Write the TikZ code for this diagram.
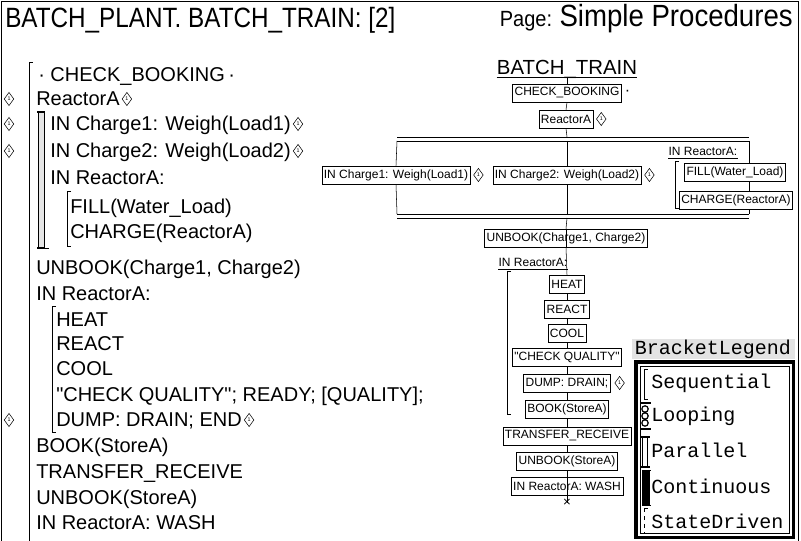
\documentclass[tikz,border=0pt]{standalone}
\usepackage{graphicx}
\usepackage{fontspec}
\setmainfont{Liberation Sans}[Ligatures=TeXOff]
\newfontfamily\legfont{Liberation Mono}
\usetikzlibrary{shapes.geometric,calc}
\tikzset{
 lt/.style={anchor=base west,inner sep=0pt,font=\fontsize{15}{15}\selectfont},
 bx/.style={draw,fill=white,inner xsep=1.5pt,inner ysep=0pt,minimum height=13.5pt,font=\fontsize{9}{9}\selectfont},
 dmk/.style={diamond,draw,inner sep=0pt,minimum width=7.3pt,minimum height=10pt,font=\fontsize{4}{4}\selectfont},
 lg/.style={anchor=base west,inner sep=0pt,font=\legfont\fontsize{15}{15}\selectfont},
 ul/.style={anchor=base,inner sep=0pt,font=\fontsize{9}{9}\selectfont},
 thk/.style={line width=1.3pt},
}
\begin{document}
\begin{tikzpicture}[x=0.75pt,y=-0.75pt]
\useasboundingbox (0,0) rectangle (801,541);
% frame
\draw (1.5,541) -- (1.5,1.5) -- (798,1.5) -- (798,541);
% header
\node[anchor=base west,inner sep=0pt,font=\fontsize{18.2}{18}\selectfont] (hdr) at (5,27.5) {\scalebox{1}[1.15]{BATCH\_PLANT. BATCH\_TRAIN: [2]}};
\node[anchor=base east,inner sep=0pt] (pg) at (793,27) {\scalebox{1}[1.1]{\fontsize{15}{15}\selectfont Page: }\scalebox{0.9}[1]{\fontsize{23}{23}\selectfont Simple Procedures}};

% ---------- left text panel ----------
\node[lt] (l1) at (38,82) {· CHECK\_BOOKING\,·};
\node[lt] (l2) at (36,106) {ReactorA};
\node[lt] (l3) at (50,131) {IN Charge1: Weigh(Load1)};
\node[lt] (l4) at (50,158) {IN Charge2: Weigh(Load2)};
\node[lt] (l5) at (50,185) {IN ReactorA:};
\node[lt] (l6) at (70,214) {FILL(Water\_Load)};
\node[lt] (l7) at (70,239) {CHARGE(ReactorA)};
\node[lt] (l8) at (36,275) {UNBOOK(Charge1, Charge2)};
\node[lt] (l9) at (36,301) {IN ReactorA:};
\node[lt] (l10) at (56,327) {HEAT};
\node[lt] (l11) at (56,351) {REACT};
\node[lt] (l12) at (56,376) {COOL};
\node[lt] (l13) at (56,402) {"CHECK QUALITY"; READY; [QUALITY];};
\node[lt] (l14) at (56,427) {DUMP: DRAIN; END};
\node[lt] (l15) at (36,453) {BOOK(StoreA)};
\node[lt] (l16) at (36,479) {TRANSFER\_RECEIVE};
\node[lt] (l17) at (36,505) {UNBOOK(StoreA)};
\node[lt] (l18) at (36,530) {IN ReactorA: WASH};
% inline markers
\node[dmk] (m2) at ($(l2.base east)+(7,-7)$) {1};
\node[dmk] (m3) at ($(l3.base east)+(7,-7)$) {1};
\node[dmk] (m4) at ($(l4.base east)+(7,-7)$) {1};
\node[dmk] (m14) at ($(l14.base east)+(7,-7)$) {1};
% left markers
\node[dmk] (lm2) at (9,99) {1};
\node[dmk] (lm3) at (9,124) {1};
\node[dmk] (lm4) at (9,151) {1};
\node[dmk] (lm14) at (9,420) {1};
% brackets
\draw (29,541) -- (29,62) -- (33,62);
\fill[gray!20] (38,112) rectangle (44,248);
\draw (38,112) -- (38,248) (44,112) -- (44,248);
\draw[thk] (37,112) -- (45,112) (37,248) -- (45,248);
\draw (45,248) -- (49,248);
\draw (71,191) -- (67,191) -- (67,246) -- (71,246);
\draw (56,306) -- (52,306) -- (52,432) -- (56,432);

% ---------- right tree ----------
\node[anchor=base,inner sep=0pt,font=\fontsize{15.3}{15.3}\selectfont] (ttl) at (567,75) {BATCH\_TRAIN};
\draw ($(ttl.base west)+(0,2.5)$) -- ($(ttl.base east)+(0,2.5)$);
\coordinate (ttlu) at ($(ttl.base)+(0,2.5)$);
% right branch line (behind boxes)
\coordinate (rb1) at (749,141);
\coordinate (rb2) at (749,214);
\draw (rb1) -- (rb2);
\node[bx] (t1) at (567,93) {CHECK\_BOOKING};
\node[anchor=west,inner sep=0pt,font=\fontsize{12}{12}\selectfont] (t1d) at ($(t1.east)+(3,0)$) {·};
\node[bx] (t2) at (566,119) {ReactorA};
\node[dmk] (t2m) at ($(t2.east)+(8,0)$) {1};
% parallel bars
\coordinate (pb1L) at (397,137); \coordinate (pb1R) at (749,137);
\coordinate (pb2L) at (397,141); \coordinate (pb2R) at (749,141);
\coordinate (pb3L) at (397,214); \coordinate (pb3R) at (749,214);
\coordinate (pb4L) at (397,218); \coordinate (pb4R) at (749,218);
\draw (pb1L) -- (pb1R) (pb2L) -- (pb2R) (pb3L) -- (pb3R) (pb4L) -- (pb4R);
\node[bx] (c1) at (396,175) {IN Charge1: Weigh(Load1)};
\node[dmk] (c1m) at ($(c1.east)+(8,0)$) {1};
\node[bx] (c2) at (567,175) {IN Charge2: Weigh(Load2)};
\node[dmk] (c2m) at ($(c2.east)+(8,0)$) {1};
\node[ul] (c3) at (703,156) {IN ReactorA:};
\draw ($(c3.base west)+(0,2)$) -- ($(c3.base east)+(0,2)$);
\node[bx] (c4) at (735,172) {FILL(Water\_Load)};
\node[bx] (c5) at (736,200) {CHARGE(ReactorA)};
\draw (679,161) -- (675,161) -- (675,208) -- (679,208);
\node[bx] (u1) at (566,238) {UNBOOK(Charge1, Charge2)};
\node[ul] (r0) at (533,267) {IN ReactorA:};
\draw ($(r0.base west)+(0,2)$) -- ($(r0.base east)+(0,2)$);
\node[bx] (r1) at (567,284) {HEAT};
\node[bx] (r2) at (567,309) {REACT};
\node[bx] (r3) at (567,333) {COOL};
\node[bx] (r4) at (567,357) {"CHECK QUALITY"};
\node[bx] (r5) at (567,383) {DUMP: DRAIN;};
\node[dmk] (r5m) at ($(r5.east)+(9,0)$) {1};
\node[bx] (s1) at (567,409) {BOOK(StoreA)};
\node[bx] (s2) at (567,436) {TRANSFER\_RECEIVE};
\node[bx] (s3) at (567,461) {UNBOOK(StoreA)};
\node[bx] (s4) at (567,486) {IN ReactorA: WASH};
\node[inner sep=0pt,font=\fontsize{10}{10}\selectfont] (xe) at (567,503) {×};
\draw (511,271) -- (507,271) -- (507,414) -- (511,414);
% connectors
\draw (ttlu) -- (t1.north);
\draw (t1.south) -- (t2.north);
\draw (t2.south) -- (567,137);
\draw (397,141) -- (c1.north);
\draw (c1.south) -- (397,214);
\draw (567,141) -- (c2.north);
\draw (c2.south) -- (567,214);
\draw (567,218) -- (u1.north);
\draw (u1.north) -- (u1.south);
\draw (u1.south) -- (r1.north);
\draw (r1.south) -- (r2.north);
\draw (r2.south) -- (r3.north);
\draw (r3.south) -- (r4.north);
\draw (r4.south) -- (r5.north);
\draw (r5.south) -- (s1.north);
\draw (s1.south) -- (s2.north);
\draw (s2.south) -- (s3.north);
\draw (s3.south) -- (xe.center);

% ---------- legend ----------
\fill[gray!22] (632,339) rectangle (795,359);
\node[inner sep=0pt,font=\legfont\fontsize{15}{15}\selectfont] (lgt) at (713,349) {BracketLegend};
\draw[line width=2.8pt] (636,362) rectangle (793.5,537.5);
\draw[line width=0.6pt] (640,366) rectangle (789.5,533.5);
\node[lg] (g1) at (651,389) {Sequential};
\node[lg] (g2) at (651,422) {Looping};
\node[lg] (g3) at (651,458) {Parallel};
\node[lg] (g4) at (651,494) {Continuous};
\node[lg] (g5) at (651,529) {StateDriven};
% legend symbols
\draw (648,369) -- (644,369) -- (644,399) -- (648,399);
\draw[thk] (641,403) -- (651,403) (641,429) -- (651,429);
\draw[line width=0.9pt] (645,409) circle[radius=3.2] (645,416) circle[radius=3.2] (645,423) circle[radius=3.2];
\draw[thk] (641,437) -- (650,437) (641,467) -- (650,467);
\draw (642.5,437) -- (642.5,467) (647.5,437) -- (647.5,467);
\draw (642,470) -- (651,470);
\fill (642,471) rectangle (649.5,505);
\draw (642,505) -- (651,505);
\draw[dashed] (644,508) -- (644,533);
\draw (644,508) -- (648,508);
\end{tikzpicture}
\end{document}
